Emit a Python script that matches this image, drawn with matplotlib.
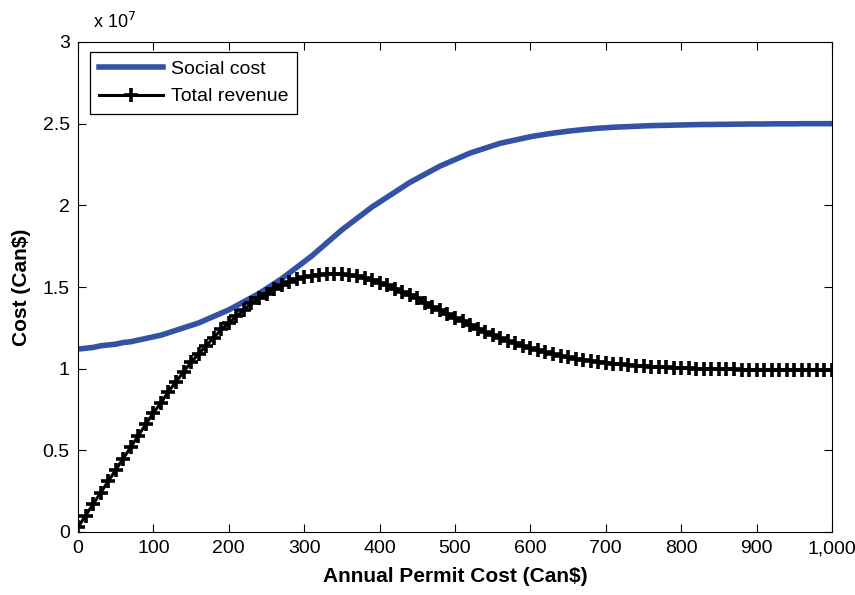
import numpy as np
import matplotlib
matplotlib.use("Agg")
import matplotlib.pyplot as plt
from matplotlib.ticker import FuncFormatter

# annual permit cost, Can$ (one point every 10)
permit_cost = np.arange(0, 1001, 10)

# social cost, in units of 1e7 Can$
social_cost = np.array([
    1.120, 1.125, 1.130, 1.140, 1.145, 1.150, 1.160, 1.165, 1.175, 1.185,
    1.195, 1.205, 1.220, 1.235, 1.250, 1.265, 1.280, 1.300, 1.320, 1.340,
    1.360, 1.385, 1.410, 1.435, 1.460, 1.490, 1.520, 1.550, 1.585, 1.620,
    1.655, 1.690, 1.730, 1.770, 1.810, 1.850, 1.885, 1.920, 1.955, 1.990,
    2.020, 2.050, 2.080, 2.110, 2.140, 2.165, 2.190, 2.215, 2.240, 2.260,
    2.280, 2.300, 2.320, 2.335, 2.350, 2.365, 2.380, 2.390, 2.400, 2.410,
    2.420, 2.428, 2.435, 2.442, 2.448, 2.454, 2.459, 2.464, 2.468, 2.472,
    2.475, 2.478, 2.480, 2.482, 2.484, 2.486, 2.488, 2.489, 2.490, 2.491,
    2.492, 2.493, 2.494, 2.495, 2.495, 2.496, 2.496, 2.497, 2.497, 2.498,
    2.498, 2.498, 2.499, 2.499, 2.499, 2.499, 2.500, 2.500, 2.500, 2.500,
    2.500,
]) * 1e7

# total permit revenue, in units of 1e7 Can$
total_revenue = np.array([
    0.030, 0.100, 0.170, 0.240, 0.310, 0.380, 0.450, 0.520, 0.590, 0.660,
    0.730, 0.790, 0.860, 0.920, 0.980, 1.040, 1.090, 1.140, 1.190, 1.240,
    1.280, 1.320, 1.360, 1.400, 1.430, 1.460, 1.490, 1.510, 1.530, 1.550,
    1.560, 1.570, 1.575, 1.580, 1.580, 1.578, 1.572, 1.565, 1.555, 1.540,
    1.525, 1.510, 1.490, 1.470, 1.450, 1.430, 1.405, 1.380, 1.360, 1.335,
    1.310, 1.290, 1.265, 1.245, 1.225, 1.205, 1.185, 1.170, 1.155, 1.140,
    1.125, 1.113, 1.100, 1.090, 1.080, 1.070, 1.062, 1.055, 1.048, 1.042,
    1.036, 1.031, 1.027, 1.023, 1.019, 1.016, 1.013, 1.010, 1.008, 1.006,
    1.004, 1.002, 1.000, 0.999, 0.998, 0.997, 0.996, 0.995, 0.994, 0.994,
    0.993, 0.993, 0.993, 0.992, 0.992, 0.992, 0.992, 0.992, 0.992, 0.992,
    0.992,
]) * 1e7

x_ticks = np.arange(0, 1001, 100)
y_ticks = np.arange(0, 3.01e7, 0.5e7)

tick_font = ["Liberation Sans Narrow", "Liberation Sans", "DejaVu Sans"]
label_font = ["Liberation Sans", "DejaVu Sans"]

fig = plt.figure(figsize=(8.55, 5.95), dpi=100)
ax = fig.add_axes([78 / 855, 63 / 595, 754 / 855, 490 / 595])

ax.plot(permit_cost, social_cost, color="#3452a4", linewidth=4.0,
        label="Social cost")
ax.plot(permit_cost, total_revenue, color="black", linewidth=2.2,
        marker="+", markersize=10, markeredgewidth=2.6, label="Total revenue")

ax.set_xlim(0, 1000)
ax.set_ylim(0, 3e7)
ax.set_xticks(x_ticks)
ax.set_yticks(y_ticks)
ax.xaxis.set_major_formatter(FuncFormatter(lambda v, p: f"{int(v):,}"))
ax.yaxis.set_major_formatter(FuncFormatter(lambda v, p: f"{v / 1e7:g}"))
ax.tick_params(direction="in", length=6, width=0.8, top=True, right=True,
               labelsize=14, pad=6)
for lab in ax.get_xticklabels() + ax.get_yticklabels():
    lab.set_family(tick_font)
for sp in ax.spines.values():
    sp.set_linewidth(0.8)

ax.text(0.02, 1.02, r"x 10$^{7}$", transform=ax.transAxes, fontsize=13,
        family=tick_font, ha="left", va="bottom")

ax.set_xlabel("Annual Permit Cost (Can$)", fontsize=15, fontweight="bold",
              family=label_font, labelpad=7)
ax.set_ylabel("Cost (Can$)", fontsize=15, fontweight="bold",
              family=label_font, labelpad=8)

leg = ax.legend(loc="upper left", bbox_to_anchor=(0.016, 0.98), fancybox=False,
                edgecolor="black", framealpha=1, borderpad=0.45,
                borderaxespad=0, handlelength=3.3, handletextpad=0.4,
                prop={"family": tick_font, "size": 14}, labelspacing=0.5)
leg.get_frame().set_linewidth(0.9)

fig.savefig("out.png", dpi=100)
